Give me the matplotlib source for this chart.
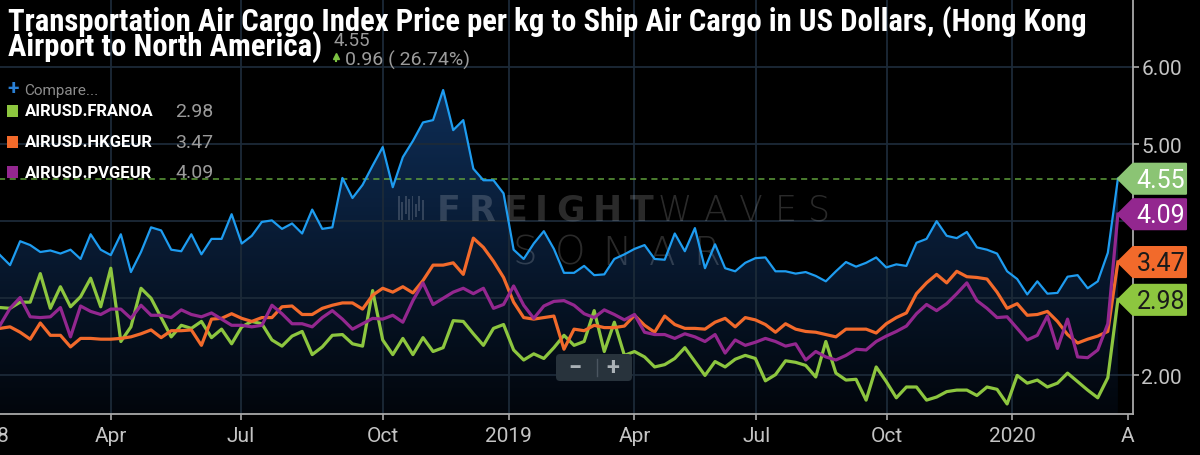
import numpy as np
import matplotlib
matplotlib.use('Agg')
import matplotlib.pyplot as plt
from matplotlib import font_manager as fm
from matplotlib.colors import LinearSegmentedColormap
from matplotlib.patches import Polygon, Rectangle, FancyBboxPatch
from matplotlib.transforms import Affine2D

W, H = 1200, 456

# weekly readings, first point sits just left of the visible area
blue = [3.70, 3.56, 3.43, 3.74, 3.69, 3.60, 3.62, 3.58, 3.63, 3.51,
        3.83, 3.63, 3.56, 3.83, 3.34, 3.60, 3.92, 3.88, 3.63, 3.61,
        3.83, 3.57, 3.77, 3.77, 4.09, 3.71, 3.81, 3.99, 4.01, 3.90,
        3.97, 3.84, 4.15, 3.90, 3.92, 4.56, 4.30, 4.47, 4.72, 4.96,
        4.44, 4.83, 5.04, 5.28, 5.31, 5.70, 5.18, 5.31, 4.68, 4.53,
        4.53, 4.36, 3.63, 3.51, 3.71, 3.87, 3.64, 3.33, 3.33, 3.42,
        3.30, 3.31, 3.51, 3.57, 3.64, 3.69, 3.51, 3.50, 3.84, 3.61,
        3.91, 3.39, 3.70, 3.39, 3.35, 3.46, 3.52, 3.53, 3.35, 3.35,
        3.32, 3.34, 3.29, 3.22, 3.35, 3.47, 3.41, 3.46, 3.53, 3.40,
        3.44, 3.42, 3.72, 3.77, 4.00, 3.81, 3.78, 3.86, 3.66, 3.63,
        3.58, 3.35, 3.25, 3.05, 3.22, 3.06, 3.07, 3.28, 3.30, 3.13,
        3.22, 3.59, 4.55]
green = [2.88, 2.88, 2.87, 2.95, 2.95, 3.32, 2.87, 3.15, 2.89, 3.02,
         3.26, 2.89, 3.39, 2.44, 2.63, 3.13, 3.00, 2.75, 2.50, 2.65,
         2.61, 2.70, 2.49, 2.60, 2.41, 2.63, 2.70, 2.67, 2.46, 2.38,
         2.51, 2.57, 2.27, 2.37, 2.52, 2.53, 2.41, 2.38, 3.10, 2.46,
         2.27, 2.48, 2.27, 2.49, 2.31, 2.36, 2.71, 2.70, 2.54, 2.39,
         2.61, 2.66, 2.33, 2.20, 2.28, 2.22, 2.36, 2.52, 2.39, 2.44,
         2.84, 2.31, 2.69, 2.26, 2.31, 2.24, 2.11, 2.14, 2.22, 2.36,
         2.18, 2.00, 2.18, 2.11, 2.21, 2.26, 2.22, 1.93, 2.01, 2.19,
         2.17, 2.13, 1.98, 2.44, 2.03, 1.94, 1.95, 1.68, 2.11, 1.92,
         1.71, 1.85, 1.85, 1.68, 1.72, 1.79, 1.81, 1.81, 1.74, 1.85,
         1.82, 1.63, 2.00, 1.90, 1.94, 1.85, 1.90, 2.03, 1.92, 1.81,
         1.71, 1.97, 2.98]
orange = [2.60, 2.61, 2.63, 2.56, 2.47, 2.68, 2.52, 2.52, 2.37, 2.48,
          2.48, 2.47, 2.47, 2.48, 2.50, 2.54, 2.59, 2.49, 2.58, 2.58,
          2.59, 2.39, 2.73, 2.74, 2.80, 2.74, 2.70, 2.75, 2.75, 2.89,
          2.90, 2.79, 2.79, 2.87, 2.91, 2.94, 2.94, 2.86, 3.04, 3.13,
          3.08, 3.15, 3.07, 3.23, 3.43, 3.43, 3.46, 3.31, 3.78, 3.66,
          3.48, 3.27, 2.95, 2.75, 2.73, 2.75, 2.77, 2.34, 2.60, 2.58,
          2.65, 2.62, 2.62, 2.64, 2.78, 2.65, 2.56, 2.77, 2.66, 2.61,
          2.61, 2.60, 2.69, 2.74, 2.63, 2.75, 2.72, 2.66, 2.56, 2.67,
          2.60, 2.57, 2.56, 2.53, 2.50, 2.60, 2.60, 2.60, 2.55, 2.67,
          2.75, 2.81, 3.06, 3.20, 3.31, 3.20, 3.35, 3.28, 3.27, 3.25,
          3.08, 2.87, 2.93, 2.78, 2.79, 2.83, 2.70, 2.53, 2.42, 2.47,
          2.51, 2.57, 3.47]
purple = [2.50, 2.65, 2.87, 3.01, 2.76, 2.75, 2.76, 2.88, 2.50, 2.90,
          2.83, 2.79, 2.86, 2.86, 2.74, 2.91, 2.78, 2.78, 2.75, 2.85,
          2.79, 2.76, 2.81, 2.73, 2.65, 2.65, 2.63, 2.65, 2.91, 2.80,
          2.67, 2.67, 2.63, 2.75, 2.84, 2.73, 2.60, 2.67, 2.74, 2.73,
          2.78, 2.69, 2.97, 3.20, 2.92, 3.00, 3.08, 3.13, 3.06, 3.13,
          2.87, 2.92, 3.16, 2.91, 2.74, 2.90, 2.96, 2.97, 2.91, 2.80,
          2.75, 2.85, 2.79, 2.72, 2.79, 2.56, 2.53, 2.53, 2.48, 2.54,
          2.50, 2.44, 2.53, 2.29, 2.46, 2.39, 2.43, 2.48, 2.44, 2.38,
          2.41, 2.20, 2.31, 2.24, 2.20, 2.26, 2.34, 2.33, 2.44, 2.51,
          2.57, 2.64, 2.80, 2.92, 2.84, 2.93, 3.06, 3.20, 2.97, 2.87,
          2.75, 2.76, 2.61, 2.46, 2.52, 2.77, 2.35, 2.73, 2.24, 2.23,
          2.33, 2.67, 4.09]

title_1 = 'Transportation Air Cargo Index Price per kg to Ship Air Cargo in US Dollars, (Hong Kong'
title_2 = 'Airport to North America)'
compare_names = ['AIRUSD.FRANOA', 'AIRUSD.HKGEUR', 'AIRUSD.PVGEUR']
change_text = '0.96 ( 26.74%)'
tick_pos = [12.0, 24.9, 39.0, 51.5, 64.0, 76.1, 89.1, 101.5, 113.0]
tick_labels = ['Apr', 'Jul', 'Oct', '2019', 'Apr', 'Jul', 'Oct', '2020', 'A']
first_label = ('2018', -0.5)
y_ticks = [2, 3, 4, 5, 6]
y_labels = ['2.00', '', '', '5.00', '6.00']

c_blue = '#1e9cf0'
c_green = '#8dc63f'
c_orange = '#f26a2b'
c_purple = '#93278f'
grey_txt = '#9b9b9b'

plt.rcParams['font.family'] = ['Roboto', 'DejaVu Sans']
names = {f.name for f in fm.fontManager.ttflist}
cond = next((n for n in ['Roboto Condensed', 'Liberation Sans Narrow', 'Open Sans Condensed']
             if n in names), 'Roboto')

fig = plt.figure(figsize=(W / 100, H / 100), dpi=100, facecolor='black')
ax = fig.add_axes([0, 41 / H, 1133 / W, 415 / H], facecolor='black')
pix = Affine2D().scale(1, -1).translate(0, H)   # pixel coords, y going down
r = fig.canvas.get_renderer()

x = np.arange(len(blue))

# gradient area under the main series
cmap = LinearSegmentedColormap.from_list('fade', ['#02060c', '#12386a'])
im = ax.imshow(np.linspace(0, 1, 256).reshape(-1, 1), extent=[x[0], x[-1], 1.5, 6.88],
               origin='lower', aspect='auto', cmap=cmap, zorder=0.8)
area = ax.fill_between(x, blue, 1.5, facecolor='none', edgecolor='none')
im.set_clip_path(area.get_paths()[0], ax.transData)

ax.set_xlim(1.0, 113.5)
ax.set_ylim(1.5, 6.88)

# grid
for v in y_ticks:
    ax.axhline(v, color='#1c2a38', lw=1.3, zorder=0.9)
for p in tick_pos[:-1]:
    ax.axvline(p, color='#1c2a38', lw=1.3, zorder=0.9)

for s in ['left', 'top']:
    ax.spines[s].set_visible(False)
for s in ['right', 'bottom']:
    ax.spines[s].set_color('#a9a9a9')
    ax.spines[s].set_linewidth(1.3)
ax.yaxis.tick_right()
ax.set_yticks(y_ticks, y_labels)
ax.set_xticks(tick_pos, tick_labels)
ax.tick_params(axis='y', colors='#a9a9a9', labelcolor='#c4c4c4', labelsize=15,
               length=4, width=1.2, pad=2)
ax.tick_params(axis='x', colors='#a9a9a9', labelcolor='#c4c4c4', labelsize=15,
               length=4, width=1.2, pad=5)
ax.text(first_label[1], -22 / 415, first_label[0], transform=ax.get_xaxis_transform(),
        ha='center', va='center', fontsize=15, color='#c4c4c4', clip_on=False)

# watermark
wm = dict(color='white', alpha=0.17, zorder=1, clip_on=False, transform=pix,
          family='DejaVu Sans')


def spaced(s, x0, x1, y, **kw):
    ts = [ax.text(0, y, c, ha='left', va='baseline', **kw) for c in s]
    ws = [t.get_window_extent(r).width for t in ts]
    gap = (x1 - x0 - sum(ws)) / (len(s) - 1)
    xx = x0
    for t, w in zip(ts, ws):
        t.set_x(xx)
        xx += w + gap


spaced('FREIGHT', 437, 653, 221, fontsize=25, fontweight='bold', **wm)
spaced('WAVES', 658, 830, 221, fontsize=25, fontweight='light', **wm)
spaced('SONAR', 513, 720, 265, fontsize=28, fontweight='light', **wm)
for i, (top, bot) in enumerate([(197, 221), (203, 221), (197, 215), (200, 221),
                                (197, 221), (205, 218), (197, 212), (201, 221)]):
    ax.add_patch(Rectangle((398 + i * 3.4, top), 1.8, bot - top, fc='white', ec='none',
                           **{k: v for k, v in wm.items() if k != 'family'}))

# series
ax.plot(x, blue, color=c_blue, lw=1.6, zorder=3)
ax.plot(x, green, color=c_green, lw=2.3, zorder=4)
ax.plot(x, orange, color=c_orange, lw=2.3, zorder=5)
ax.plot(x, purple, color=c_purple, lw=2.3, zorder=6)
ax.hlines(blue[-1], x[0], x[-1], colors='#5f9f3c', linestyles=(0, (4, 3)), lw=1.1, zorder=2.5)


def to_pix(xv, yv):
    dx, dy = ax.transData.transform((xv, yv))
    return dx, H - dy


# value tags on the right
tip_x, _ = to_pix(x[-1], blue[-1])
tags = [(blue[-1], '#8bc474', 'white'), (purple[-1], c_purple, 'white'),
        (orange[-1], c_orange, '#1a1a1a'), (green[-1], c_green, '#1a1a1a')]
for val, fc, tc in tags:
    _, yc = to_pix(x[-1], val)
    ax.add_patch(Polygon([(tip_x, yc), (1133, yc - 15), (1186, yc - 15), (1186, yc + 15),
                          (1133, yc + 15)], closed=True, transform=pix, fc=fc, ec=fc, lw=1.5,
                         joinstyle='round', clip_on=False, zorder=8))
    ax.text(1161, yc + 1, f'{val:.2f}', transform=pix, ha='center', va='center',
            fontsize=18, color=tc, clip_on=False, zorder=9)

# zoom control
ax.add_patch(FancyBboxPatch((556, 355), 76, 27, boxstyle='round,pad=0,rounding_size=4',
                            transform=pix, fc='#28333c', ec='none', clip_on=False, zorder=9))
ax.plot([597, 597], [360, 377], transform=pix, color='#4b5660', lw=1, clip_on=False, zorder=10)
ax.text(575, 369, '\u2212', transform=pix, ha='center', va='center', fontsize=17,
        fontweight='bold', color='#aab1b6', clip_on=False, zorder=10)
ax.text(613, 369, '+', transform=pix, ha='center', va='center', fontsize=17,
        fontweight='bold', color='#aab1b6', clip_on=False, zorder=10)

# title, fitted to the reference width
t1 = ax.text(8, 31, title_1, transform=pix, fontsize=24, fontweight='bold', family=cond,
             color='white', va='baseline', clip_on=False, zorder=11)
t1.set_fontsize(24 * 1080 / t1.get_window_extent(r).width)
t2 = ax.text(8, 56, title_2, transform=pix, fontsize=t1.get_fontsize(), fontweight='bold',
             family=cond, color='white', va='baseline', clip_on=False, zorder=11)
x_end = t2.get_window_extent(r).x1

ax.text(x_end + 11, 41, f'{blue[-1]:.2f}', transform=pix, fontsize=13.5, color=grey_txt,
        va='center', clip_on=False, zorder=11)
ax.plot([x_end + 14], [57], marker='^', ms=5, color='#7cc142', transform=pix, clip_on=False, zorder=11)
ax.plot([x_end + 14, x_end + 14], [58, 62], color='#7cc142', lw=1.5, transform=pix,
        clip_on=False, zorder=11)
ax.text(x_end + 23, 60, change_text, transform=pix, fontsize=14, color=grey_txt,
        va='center', clip_on=False, zorder=11)

# compare legend
ax.text(7, 89, '+', transform=pix, fontsize=15, fontweight='bold', color='#2a7fd4',
        va='center', clip_on=False, zorder=11)
ax.text(24, 91, 'Compare...', transform=pix, fontsize=11, color='#8c8c8c',
        va='center', clip_on=False, zorder=11)
for i, (name, col, vals) in enumerate(zip(compare_names, [c_green, c_orange, c_purple],
                                          [green, orange, purple])):
    yc = 112 + i * 30.7
    ax.add_patch(Rectangle((7, yc - 6), 11, 12, transform=pix, fc=col, ec='none',
                           clip_on=False, zorder=11))
    ax.text(25, yc, name, transform=pix, fontsize=12, fontweight='bold',
            color='white', va='center', clip_on=False, zorder=11)
    ax.text(175, yc, f'{vals[-1]:.2f}', transform=pix, fontsize=14, color=grey_txt,
            va='center', clip_on=False, zorder=11)

fig.savefig('out.png', dpi=100, facecolor='black')
